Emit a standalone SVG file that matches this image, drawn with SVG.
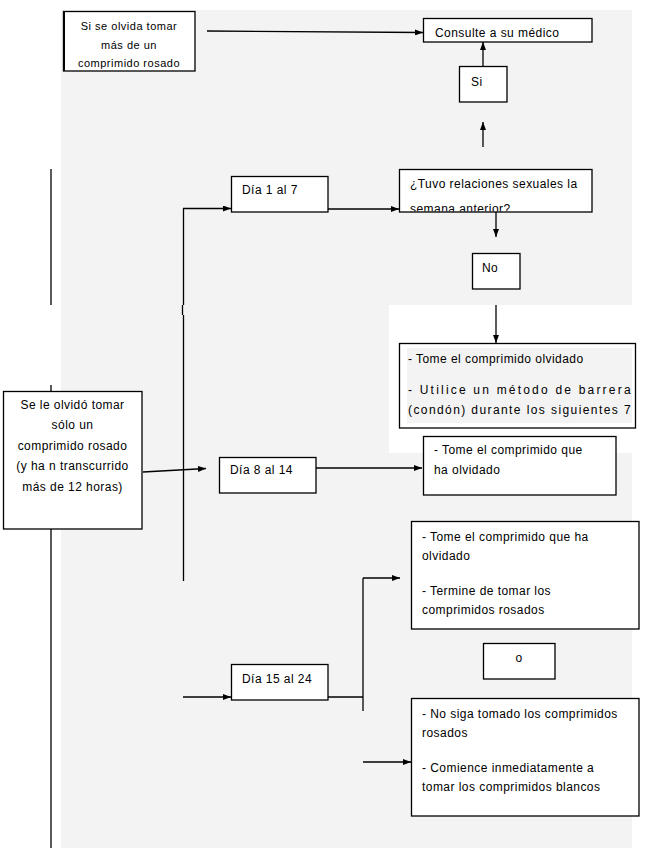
<svg xmlns="http://www.w3.org/2000/svg" width="645" height="848" viewBox="0 0 645 848">
<defs>
<marker id="ah" markerWidth="8" markerHeight="6" refX="8" refY="3" orient="auto" markerUnits="userSpaceOnUse">
<path d="M0,0 L8,3 L0,6 Z" fill="#000"/>
</marker>
<clipPath id="clipTuvo"><rect x="400" y="170" width="192" height="41.5"/></clipPath>
<style>
.box{fill:#fff;stroke:#000;stroke-width:1.3}
.t{font-family:"Liberation Sans",Arial,sans-serif;font-size:12px;letter-spacing:0.45px;fill:#000}
.s{font-size:11px;letter-spacing:0.5px}
.c{text-anchor:middle}
.ln{fill:none;stroke:#000;stroke-width:1.3}
.ar{fill:none;stroke:#000;stroke-width:1.3;marker-end:url(#ah)}
</style>
</defs>
<rect width="645" height="848" fill="#fff"/>
<rect x="61" y="10" width="571" height="838" fill="#f3f3f3"/>
<rect x="389" y="305" width="256" height="148" fill="#fff"/>

<g id="connectors">
<line class="ar" x1="207" y1="31" x2="423" y2="32.5"/>
<line class="ar" x1="483" y1="66" x2="483" y2="42"/>
<line class="ar" x1="483" y1="147" x2="483" y2="122"/>
<line class="ln" x1="51" y1="169" x2="51" y2="305"/>
<line class="ln" x1="51" y1="385" x2="51" y2="391"/>
<line class="ln" x1="51" y1="529" x2="51" y2="848"/>
<line class="ln" x1="183.5" y1="305" x2="183.5" y2="208.5"/>
<line class="ar" x1="183" y1="208.5" x2="231" y2="208.5"/>
<line class="ln" x1="182.5" y1="305" x2="182.5" y2="315"/>
<line class="ln" x1="183.5" y1="315" x2="183.5" y2="581"/>
<line class="ar" x1="328" y1="209" x2="399" y2="209"/>
<line class="ar" x1="496" y1="212" x2="496" y2="237"/>
<line class="ar" x1="496" y1="305" x2="496" y2="343"/>
<line class="ar" x1="143" y1="472" x2="206" y2="468.5"/>
<line class="ar" x1="316" y1="468" x2="422" y2="468"/>
<line class="ar" x1="183" y1="697" x2="231" y2="697"/>
<line class="ln" x1="328" y1="697" x2="363" y2="697"/>
<line class="ln" x1="363" y1="711" x2="363" y2="578"/>
<line class="ar" x1="363" y1="578" x2="400" y2="578"/>
<line class="ar" x1="363" y1="762" x2="411" y2="762"/>
</g>

<g id="n-mas-de-uno">
<rect class="box" x="63.5" y="11.5" width="131.5" height="59.5"/>
<line x1="64" y1="11.5" x2="64" y2="71" stroke="#000" stroke-width="2"/>
<text class="t s c" x="129" y="30">Si se olvida tomar</text>
<text class="t s c" x="129" y="48.5">más de un</text>
<text class="t s c" x="129" y="66.5">comprimido rosado</text>
</g>

<g id="n-consulte">
<rect class="box" x="423.5" y="18.5" width="168.5" height="23.5"/>
<text class="t" x="435" y="37">Consulte a su médico</text>
</g>

<g id="n-si">
<rect class="box" x="459.5" y="66.5" width="47.5" height="35.5"/>
<text class="t" x="471" y="86">Si</text>
</g>

<g id="n-dia1">
<rect class="box" x="231.5" y="176.5" width="96.5" height="35.5"/>
<text class="t" x="242" y="194">Día 1 al 7</text>
</g>

<g id="n-tuvo">
<rect class="box" x="399.5" y="169.5" width="192.5" height="42.5"/>
<text class="t" x="410" y="188">¿Tuvo relaciones sexuales la</text>
<text class="t" x="410" y="213" clip-path="url(#clipTuvo)">semana anterior?</text>
</g>

<g id="n-no">
<rect class="box" x="472.5" y="253.5" width="47.5" height="35.5"/>
<text class="t" x="482" y="272">No</text>
</g>

<g id="n-tome-olvidado">
<rect class="box" x="399.5" y="343.5" width="236" height="84.5"/>
<rect x="407" y="348" width="225" height="75" fill="#f3f3f3"/>
<text class="t" x="408" y="363">- Tome el comprimido olvidado</text>
<text class="t" x="408" y="394" textLength="223" lengthAdjust="spacing">- Utilice un método de barrera</text>
<text class="t" x="408" y="414" textLength="223" lengthAdjust="spacing">(condón) durante los siguientes 7</text>
</g>

<g id="n-main">
<rect class="box" x="3.5" y="391.5" width="138.5" height="137.5"/>
<text class="t c" x="72.5" y="409">Se le olvidó tomar</text>
<text class="t c" x="72.5" y="429">sólo un</text>
<text class="t c" x="72.5" y="450">comprimido rosado</text>
<text class="t c" x="72.5" y="470">(y ha n transcurrido</text>
<text class="t c" x="72.5" y="491">más de 12 horas)</text>
</g>

<g id="n-dia8">
<rect class="box" x="219.5" y="457.5" width="96.5" height="35.5"/>
<text class="t" x="230" y="474">Día 8 al 14</text>
</g>

<g id="n-tome-que">
<rect class="box" x="423.5" y="436.5" width="192.5" height="58.5"/>
<text class="t" x="434" y="454">- Tome el comprimido que</text>
<text class="t" x="434" y="474">ha olvidado</text>
</g>

<g id="n-termine">
<rect class="box" x="411.5" y="521.5" width="227.5" height="107.5"/>
<text class="t" x="422" y="541">- Tome el comprimido que ha</text>
<text class="t" x="422" y="560">olvidado</text>
<text class="t" x="422" y="595">- Termine de tomar los</text>
<text class="t" x="422" y="614">comprimidos rosados</text>
</g>

<g id="n-o">
<rect class="box" x="483.5" y="643.5" width="71.5" height="35.5"/>
<text class="t c" x="519" y="662">o</text>
</g>

<g id="n-dia15">
<rect class="box" x="231.5" y="664.5" width="96.5" height="35.5"/>
<text class="t" x="242" y="683">Día 15 al 24</text>
</g>

<g id="n-no-siga">
<rect class="box" x="411.5" y="698.5" width="227.5" height="117.5"/>
<text class="t" x="422" y="718">- No siga tomado los comprimidos</text>
<text class="t" x="422" y="737">rosados</text>
<text class="t" x="422" y="772">- Comience inmediatamente a</text>
<text class="t" x="422" y="791">tomar los comprimidos blancos</text>
</g>
</svg>
